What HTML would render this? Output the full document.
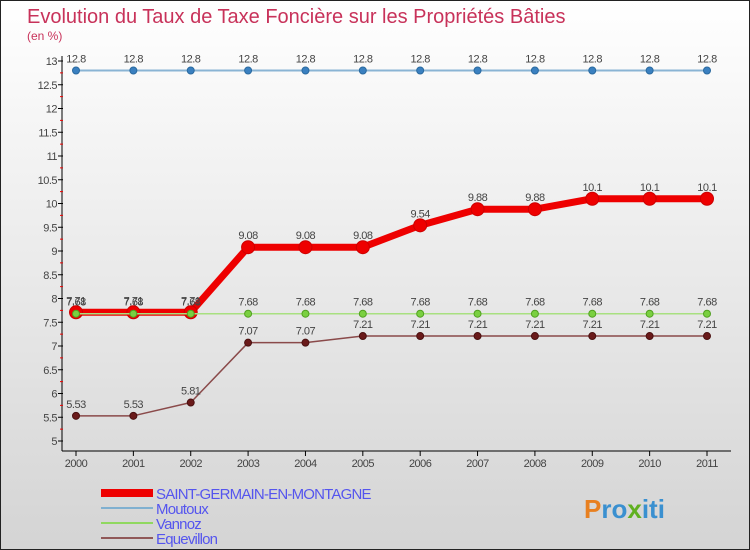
<!DOCTYPE html>
<html><head><meta charset="utf-8"><style>
body{margin:0}
#c{width:750px;height:550px;position:relative;box-sizing:border-box;border:1px solid #222;background:linear-gradient(#ffffff,#d4d4d4);font-family:"Liberation Sans",sans-serif;overflow:hidden}
svg{position:absolute;left:0;top:0}
</style></head><body>
<div id="c">
<svg id="s" width="750" height="550">
<text x="26" y="22" font-size="20" fill="#c8325a">Evolution du Taux de Taxe Foncière sur les Propriétés Bâties</text>
<text x="26" y="39" font-size="12" fill="#c8325a">(en %)</text>
</svg>
</div>
<script>
const years=["2000","2001","2002","2003","2004","2005","2006","2007","2008","2009","2010","2011"];
const saint=[7.71,7.71,7.71,9.08,9.08,9.08,9.54,9.88,9.88,10.1,10.1,10.1];
const moutoux=[12.8,12.8,12.8,12.8,12.8,12.8,12.8,12.8,12.8,12.8,12.8,12.8];
const vannoz=[7.68,7.68,7.68,7.68,7.68,7.68,7.68,7.68,7.68,7.68,7.68,7.68];
const equevillon=[5.53,5.53,5.81,7.07,7.07,7.21,7.21,7.21,7.21,7.21,7.21,7.21];
const yTicks=[5,5.5,6,6.5,7,7.5,8,8.5,9,9.5,10,10.5,11,11.5,12,12.5,13];
const seriesNames=["SAINT-GERMAIN-EN-MONTAGNE","Moutoux","Vannoz","Equevillon"];

const s=document.getElementById('s');
const NS="http://www.w3.org/2000/svg";
function X(i){return 75+i*(706-75)/(years.length-1);}
function Y(v){return 440-(v-5)*47.5;}
function mk(t,a,name){const e=document.createElementNS(NS,t);for(const k in a)e.setAttribute(k,a[k]);


s.appendChild(e);return e;}
function fmt(v){return String(v);}
// axes
mk('line',{x1:61,y1:55,x2:61,y2:450,stroke:'#000','stroke-width':1},'y-axis');
mk('line',{x1:61,y1:450,x2:730,y2:450,stroke:'#000','stroke-width':1},'x-axis');
yTicks.forEach(v=>{
  mk('line',{x1:57,y1:Y(v),x2:62,y2:Y(v),stroke:'#000'},'y-tick');
  const t=mk('text',{x:56,y:Y(v)+4,'font-size':11,fill:'#444','text-anchor':'end','letter-spacing':'-0.5'},'y-tick-label');t.textContent=fmt(v);
  if(v<13)mk('line',{x1:59,y1:Y(v+0.25),x2:62,y2:Y(v+0.25),stroke:'#e00'},'y-minor-tick');
});
years.forEach((y,i)=>{
  mk('line',{x1:X(i),y1:450,x2:X(i),y2:455,stroke:'#000'},'x-tick');
  const t=mk('text',{x:X(i),y:466,'font-size':11,fill:'#444','text-anchor':'middle','letter-spacing':'-0.5'},'x-tick-label');t.textContent=y;
});
function series(data,color,w,r,fill,stroke,name){
  mk('polyline',{points:data.map((v,i)=>X(i)+','+Y(v)).join(' '),fill:'none',stroke:color,'stroke-width':w,'stroke-linejoin':'round'},name+'-line');
  data.forEach((v,i)=>{
    mk('circle',{cx:X(i),cy:Y(v),r:r,fill:fill,stroke:stroke,'stroke-width':1},name+'-point');
    const t=mk('text',{x:X(i),y:Y(v)-8,'font-size':11,fill:'#444','text-anchor':'middle','letter-spacing':'-0.5'},name+'-value-label');t.textContent=fmt(v);
  });
}
series(moutoux,'#8ab4d4',2,3.5,'#3a80c0','#2a6aa0','moutoux');
series(equevillon,'#8a4a4a',1.5,3.5,'#6a1a1a','#4a1010','equevillon');
series(saint,'#ee0000',7,6.5,'#ee0000','#cc0000','saint-germain');
series(vannoz,'#a8e080',1.5,3.5,'#7ad040','#50a020','vannoz');
// legend
const lg=[{c:'#ee0000',w:8},{c:'#80b0d0',w:2},{c:'#90d860',w:2},{c:'#905858',w:2}];
seriesNames.forEach((n,i)=>{
  const y=492+i*15;
  mk('line',{x1:100,y1:y,x2:152,y2:y,stroke:lg[i].c,'stroke-width':lg[i].w},'legend-swatch');
  const t=mk('text',{x:155,y:y+6,'font-size':15,fill:'#5555ee','letter-spacing':'-0.8'},'legend-entry');t.textContent=n;
});
const p=mk('text',{x:583,y:517,'font-size':26,'font-weight':'bold',fill:'#3a90d0'},'proxiti-logo');
p.innerHTML='<tspan fill="#e88020">P</tspan>ro<tspan fill="#60b020">x</tspan>iti';
</script>
</body></html>
